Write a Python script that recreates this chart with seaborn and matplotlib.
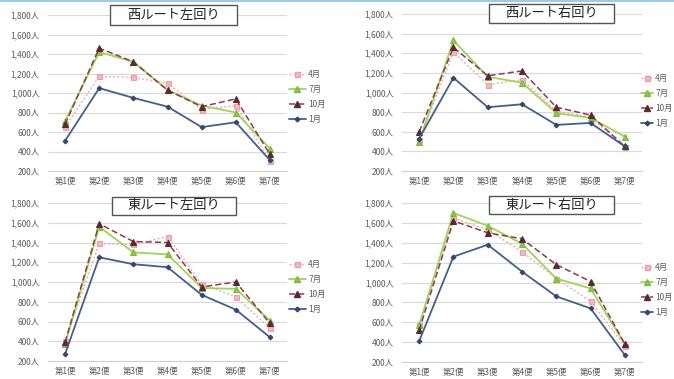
import matplotlib
matplotlib.use("Agg")
import matplotlib.pyplot as plt
from matplotlib.lines import Line2D
from matplotlib.patches import Rectangle
import seaborn as sns
import pandas as pd

sns.set_theme(style="white")
plt.rcParams["font.family"] = ["Noto Sans CJK JP", "DejaVu Sans"]

stops = ["第1便", "第2便", "第3便", "第4便", "第5便", "第6便", "第7便"]
months = ["4月", "7月", "10月", "1月"]
y_ticks = [200, 400, 600, 800, 1000, 1200, 1400, 1600, 1800]
y_labels = ["200人", "400人", "600人", "800人", "1,000人", "1,200人",
            "1,400人", "1,600人", "1,800人"]

# 西ルート左回り
wl_apr = [650, 1170, 1160, 1100, 830, 870, 300]
wl_jul = [710, 1420, 1320, 1030, 870, 800, 430]
wl_oct = [680, 1460, 1320, 1030, 860, 940, 370]
wl_jan = [510, 1050, 950, 860, 650, 700, 310]

# 西ルート右回り
wr_apr = [520, 1410, 1080, 1130, 810, 750, 440]
wr_jul = [500, 1530, 1160, 1100, 790, 740, 550]
wr_oct = [600, 1460, 1170, 1220, 850, 770, 450]
wr_jan = [530, 1150, 850, 880, 670, 690, 450]

# 東ルート左回り
el_apr = [400, 1390, 1380, 1460, 980, 850, 530]
el_jul = [370, 1560, 1300, 1280, 940, 930, 610]
el_oct = [390, 1590, 1410, 1400, 950, 1000, 580]
el_jan = [270, 1250, 1180, 1150, 870, 720, 440]

# 東ルート右回り
er_apr = [570, 1650, 1530, 1310, 1040, 810, 360]
er_jul = [570, 1700, 1570, 1390, 1040, 940, 380]
er_oct = [520, 1620, 1500, 1440, 1180, 1010, 380]
er_jan = [410, 1260, 1380, 1110, 860, 740, 270]

panels = [
    ("西ルート左回り", [wl_apr, wl_jul, wl_oct, wl_jan]),
    ("西ルート右回り", [wr_apr, wr_jul, wr_oct, wr_jan]),
    ("東ルート左回り", [el_apr, el_jul, el_oct, el_jan]),
    ("東ルート右回り", [er_apr, er_jul, er_oct, er_jan]),
]

styles = {
    "4月": dict(color="#f2aab4", marker="s", ls=(0, (1.5, 1.5)), lw=1.0,
               ms=3.6, mfc="#f5b8c0", mec="#eaa0aa"),
    "7月": dict(color="#9fd45c", marker="^", ls="-", lw=1.3,
               ms=4.0, mfc="#8cc84a", mec="#7fb840"),
    "10月": dict(color="#8e3a4c", marker="^", ls=(0, (4, 2)), lw=1.1,
                ms=4.0, mfc="#5a2a32", mec="#5a2a32"),
    "1月": dict(color="#44608a", marker="D", ls="-", lw=1.3,
               ms=2.4, mfc="#33486a", mec="#33486a"),
}

W, H = 674, 379
fig = plt.figure(figsize=(W / 100, H / 100), dpi=100)

# (left px, right px, top px, bottom px) of each plotting area
boxes = [(48, 287, 15, 171), (402, 642, 14, 171),
         (48, 287, 203, 361), (402, 642, 203, 362)]
# title frames (x0, x1, y0, y1) in px
title_boxes = [(110, 237, 5, 25), (489, 614, 4, 23),
               (112, 236, 197, 215), (489, 614, 196, 214)]
# legend anchor (x px, y px) and handle length
legend_pos = [(289, 76, 2.0), (641, 80, 1.4), (289, 266, 2.0), (641, 269, 1.4)]

for (title, series), (l, r, t, b), (tx0, tx1, ty0, ty1), (lx, ly, hl) in zip(
        panels, boxes, title_boxes, legend_pos):
    ax = fig.add_axes([l / W, 1 - b / H, (r - l) / W, (b - t) / H])
    df = pd.DataFrame({
        "便": stops * len(months),
        "人数": [v for s in series for v in s],
        "月": [m for m in months for _ in stops],
    })
    ax.set_ylim(200, 1800)
    ax.set_yticks(y_ticks)
    ax.set_yticklabels(y_labels)
    ax.grid(axis="y", color="#d9d9d9", lw=0.8)
    ax.set_axisbelow(True)
    for m in months:
        st = styles[m]
        sns.lineplot(data=df[df["月"] == m], x="便", y="人数", ax=ax,
                     color=st["color"], marker=st["marker"],
                     linestyle=st["ls"], linewidth=st["lw"],
                     markersize=st["ms"], markerfacecolor=st["mfc"],
                     markeredgecolor=st["mec"], markeredgewidth=0.8,
                     legend=False)
    ax.set_xlim(-0.5, 6.5)
    ax.set_xlabel("")
    ax.set_ylabel("")
    for side in ["top", "right", "left"]:
        ax.spines[side].set_visible(False)
    ax.spines["bottom"].set_color("#d0d0d0")
    ax.spines["bottom"].set_linewidth(0.8)
    ax.tick_params(axis="both", length=0, labelsize=6, colors="#5a5a5a")
    ax.tick_params(axis="y", pad=6)
    ax.tick_params(axis="x", pad=4)

    handles = [Line2D([], [], color=styles[m]["color"], marker=styles[m]["marker"],
                      linestyle=styles[m]["ls"], lw=styles[m]["lw"],
                      ms=styles[m]["ms"], mfc=styles[m]["mfc"],
                      mec=styles[m]["mec"]) for m in months]
    leg = fig.legend(handles, months, loc="upper left",
                     bbox_to_anchor=(lx / W, 1 - (ly - 6) / H),
                     frameon=False, fontsize=6, handlelength=hl,
                     handletextpad=0.3, labelspacing=0.7,
                     borderaxespad=0, borderpad=0)
    for txt in leg.get_texts():
        txt.set_color("#5a5a5a")

    fig.patches.append(Rectangle((tx0 / W, 1 - ty1 / H), (tx1 - tx0) / W,
                                 (ty1 - ty0) / H, transform=fig.transFigure,
                                 facecolor="white", edgecolor="#555555",
                                 lw=1.0, zorder=5))
    fig.text((tx0 + tx1) / 2 / W, 1 - (ty0 + ty1) / 2 / H, title,
             ha="center", va="center", fontsize=9.5, color="#222222",
             zorder=6)

# thin accent band along the top edge
fig.patches.append(Rectangle((0, 1 - 2 / H), 1, 2 / H, transform=fig.transFigure,
                             facecolor="#9ccbe8", edgecolor="none"))

fig.savefig("out.png", dpi=100)
